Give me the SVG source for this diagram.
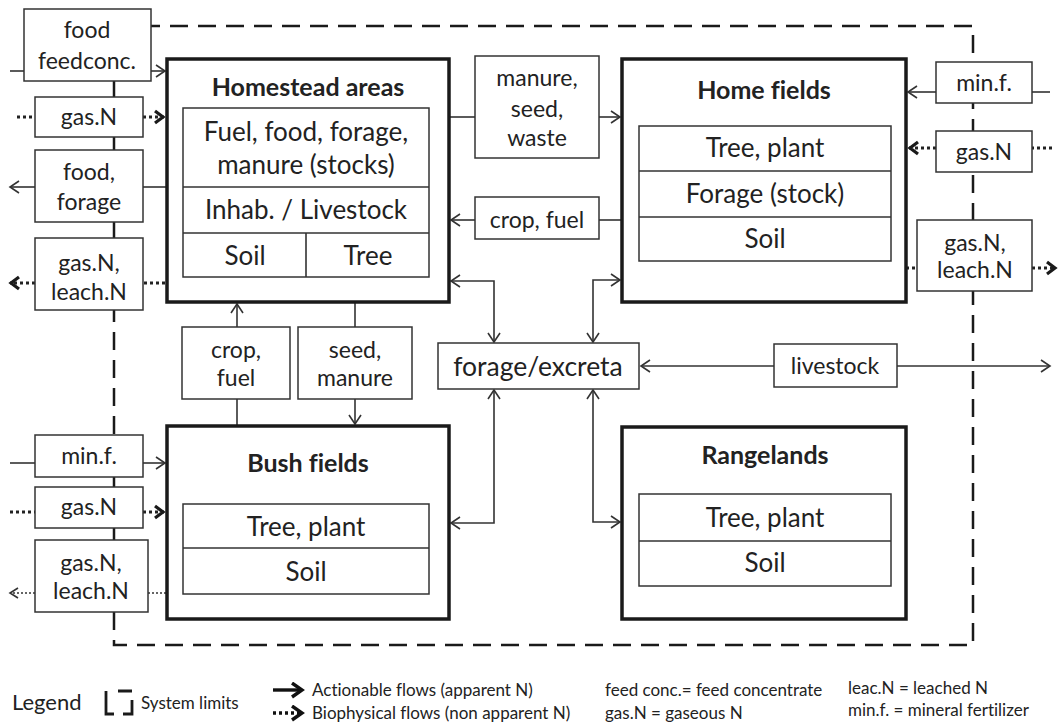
<svg xmlns="http://www.w3.org/2000/svg" width="1063" height="725" viewBox="0 0 1063 725">
<style>
text{font-family:Lato,"Open Sans","Liberation Sans",sans-serif;fill:#222;text-anchor:middle;font-variant-ligatures:none}
.t{font-size:23px}
.m{font-size:26px}
.h{font-size:25px;font-weight:bold}
.lg{font-size:17px;text-anchor:start}
.bx{fill:#fff;stroke:#333;stroke-width:1.5}
.big{fill:#fff;stroke:#1a1a1a;stroke-width:3.5}
.ln{fill:none;stroke:#333;stroke-width:1.6}
.dt{fill:none;stroke:#222;stroke-width:3;stroke-dasharray:3 3}
.dtt{fill:none;stroke:#333;stroke-width:1.5;stroke-dasharray:2 2}
.bd{fill:none;stroke:#1a1a1a;stroke-width:2.5;stroke-dasharray:18 10}
</style>
<defs>
<marker id="a" markerUnits="userSpaceOnUse" markerWidth="14" markerHeight="16" refX="10" refY="7" orient="auto-start-reverse"><path d="M1,1 L10,7 L1,13" fill="none" stroke="#333" stroke-width="1.6"/></marker>
<marker id="b" markerUnits="userSpaceOnUse" markerWidth="16" markerHeight="18" refX="11" refY="8" orient="auto"><path d="M2,2 L10,8 L2,14" fill="none" stroke="#1a1a1a" stroke-width="3.2"/></marker>
<marker id="c" markerUnits="userSpaceOnUse" markerWidth="14" markerHeight="14" refX="9" refY="6" orient="auto"><path d="M1,1 L9,6 L1,11" fill="none" stroke="#333" stroke-width="1.6"/></marker>
<marker id="L" markerUnits="userSpaceOnUse" markerWidth="18" markerHeight="18" refX="12" refY="8" orient="auto"><path d="M2,1 L12,8 L2,15" fill="none" stroke="#111" stroke-width="3.4"/></marker>
</defs>
<rect width="1063" height="725" fill="#fff"/>
<rect class="bd" x="114" y="26" width="859" height="619"/>
<g id="connectors">
<path class="ln" d="M10,71 H24"/>
<path class="ln" d="M151,71 H165" marker-end="url(#a)"/>
<path class="dt" d="M17,117 H35"/>
<path class="dt" d="M143,117 H164" marker-end="url(#b)"/>
<path class="ln" d="M166,187 H143"/>
<path class="ln" d="M35,187 H10" marker-end="url(#a)"/>
<path class="dt" d="M165,283 H143"/>
<path class="dt" d="M35,283 H10" marker-end="url(#b)"/>
<path class="ln" d="M449,117 H475"/>
<path class="ln" d="M599,117 H620" marker-end="url(#a)"/>
<path class="ln" d="M622,220 H599"/>
<path class="ln" d="M475,220 H451" marker-end="url(#a)"/>
<path class="ln" d="M451,281 H494 V342" marker-start="url(#a)" marker-end="url(#a)"/>
<path class="ln" d="M620,280 H593 V342" marker-start="url(#a)" marker-end="url(#a)"/>
<path class="ln" d="M494,390 V523 H451" marker-start="url(#a)" marker-end="url(#a)"/>
<path class="ln" d="M593,390 V522 H620" marker-start="url(#a)" marker-end="url(#a)"/>
<path class="ln" d="M774,366 H641" marker-end="url(#a)"/>
<path class="ln" d="M897,366 H1050" marker-end="url(#a)"/>
<path class="ln" d="M237,426 V399"/>
<path class="ln" d="M237,327 V304" marker-end="url(#a)"/>
<path class="ln" d="M355,302 V327"/>
<path class="ln" d="M355,399 V424" marker-end="url(#a)"/>
<path class="ln" d="M10,463 H35"/>
<path class="ln" d="M143,463 H165" marker-end="url(#a)"/>
<path class="dt" d="M10,512 H35"/>
<path class="dt" d="M143,512 H164" marker-end="url(#b)"/>
<path class="dtt" d="M166,593 H148"/>
<path class="dtt" d="M35,593 H10" marker-end="url(#c)"/>
<path class="ln" d="M1050,92 H1032"/>
<path class="ln" d="M936,92 H908" marker-end="url(#a)"/>
<path class="dt" d="M1052,148 H1032"/>
<path class="dt" d="M936,148 H909" marker-end="url(#b)"/>
<path class="dt" d="M906,268 H917"/>
<path class="dt" d="M1032,268 H1056" marker-end="url(#b)"/>
</g>
<g id="homestead">
<rect class="big" x="167" y="59" width="282" height="243"/>
<text class="h" x="308" y="96">Homestead areas</text>
<rect class="bx" x="183" y="108" width="246" height="169"/>
<path class="ln" d="M183,187 H429 M183,233 H429 M306,233 V277"/>
<text class="m" x="306" y="141">Fuel, food, forage,</text>
<text class="m" x="306" y="174">manure (stocks)</text>
<text class="m" x="306" y="219">Inhab. / Livestock</text>
<text class="m" x="245" y="265">Soil</text>
<text class="m" x="368" y="265">Tree</text>
</g>
<g id="homefields">
<rect class="big" x="622" y="59" width="284" height="243"/>
<text class="h" x="764" y="99">Home fields</text>
<rect class="bx" x="639" y="126" width="252" height="135"/>
<path class="ln" d="M639,171 H891 M639,217 H891"/>
<text class="m" x="765" y="157">Tree, plant</text>
<text class="m" x="765" y="203">Forage (stock)</text>
<text class="m" x="765" y="248">Soil</text>
</g>
<g id="bushfields">
<rect class="big" x="167" y="426" width="282" height="193"/>
<text class="h" x="308" y="472">Bush fields</text>
<rect class="bx" x="183" y="504" width="246" height="90"/>
<path class="ln" d="M183,548 H429"/>
<text class="m" x="306" y="536">Tree, plant</text>
<text class="m" x="306" y="581">Soil</text>
</g>
<g id="rangelands">
<rect class="big" x="622" y="427" width="284" height="192"/>
<text class="h" x="765" y="464">Rangelands</text>
<rect class="bx" x="639" y="494" width="252" height="92"/>
<path class="ln" d="M639,541 H891"/>
<text class="m" x="765" y="527">Tree, plant</text>
<text class="m" x="765" y="572">Soil</text>
</g>
<g id="forage-excreta">
<rect class="bx" x="438" y="343" width="201" height="46"/>
<text x="538" y="376" style="font-size:26.5px">forage/excreta</text>
</g>
<g id="livestock">
<rect class="bx" x="774" y="344" width="123" height="43"/>
<text class="t" x="835" y="374">livestock</text>
</g>
<g id="manure-seed-waste">
<rect class="bx" x="475" y="56" width="124" height="102"/>
<text class="t" x="537" y="86">manure,</text>
<text class="t" x="537" y="117">seed,</text>
<text class="t" x="537" y="146">waste</text>
</g>
<g id="crop-fuel-h">
<rect class="bx" x="475" y="197" width="124" height="42"/>
<text class="t" x="537" y="228">crop, fuel</text>
</g>
<g id="crop-fuel-v">
<rect class="bx" x="182" y="327" width="108" height="72"/>
<text class="t" x="236" y="358">crop,</text>
<text class="t" x="236" y="386">fuel</text>
</g>
<g id="seed-manure">
<rect class="bx" x="298" y="327" width="114" height="72"/>
<text class="t" x="355" y="358">seed,</text>
<text class="t" x="355" y="386">manure</text>
</g>
<g id="food-feedconc">
<rect class="bx" x="24" y="9" width="127" height="72"/>
<text class="t" x="87" y="38">food</text>
<text class="t" x="87" y="69">feedconc.</text>
</g>
<g id="gasN-1">
<rect class="bx" x="35" y="97" width="108" height="40"/>
<text class="t" x="89" y="125">gas.N</text>
</g>
<g id="food-forage">
<rect class="bx" x="35" y="150" width="108" height="72"/>
<text class="t" x="89" y="180">food,</text>
<text class="t" x="89" y="210">forage</text>
</g>
<g id="gasN-leachN-1">
<rect class="bx" x="35" y="238" width="108" height="72"/>
<text class="t" x="89" y="271">gas.N,</text>
<text class="t" x="89" y="300">leach.N</text>
</g>
<g id="minf-1">
<rect class="bx" x="35" y="435" width="108" height="42"/>
<text class="t" x="89" y="464">min.f.</text>
</g>
<g id="gasN-2">
<rect class="bx" x="35" y="487" width="108" height="41"/>
<text class="t" x="89" y="515">gas.N</text>
</g>
<g id="gasN-leachN-2">
<rect class="bx" x="35" y="540" width="113" height="72"/>
<text class="t" x="91" y="571">gas.N,</text>
<text class="t" x="91" y="599">leach.N</text>
</g>
<g id="minf-2">
<rect class="bx" x="936" y="62" width="96" height="41"/>
<text class="t" x="984" y="91">min.f.</text>
</g>
<g id="gasN-3">
<rect class="bx" x="936" y="131" width="96" height="41"/>
<text class="t" x="984" y="160">gas.N</text>
</g>
<g id="gasN-leachN-3">
<rect class="bx" x="917" y="220" width="115" height="71"/>
<text class="t" x="975" y="251">gas.N,</text>
<text class="t" x="975" y="278">leach.N</text>
</g>
<g id="legend">
<text x="12" y="710" style="font-size:22px;text-anchor:start">Legend</text>
<path d="M106,691 V714 H114 M118,691 H132 M132,700 V714 H123" fill="none" stroke="#1a1a1a" stroke-width="2.8"/>
<text class="lg" x="141" y="709">System limits</text>
<path d="M273,690 H302" fill="none" stroke="#111" stroke-width="3.4" marker-end="url(#L)"/>
<text class="lg" x="312" y="696">Actionable flows (apparent N)</text>
<path d="M273,713 H302" fill="none" stroke="#111" stroke-width="3.4" stroke-dasharray="3 3" marker-end="url(#L)"/>
<text class="lg" x="312" y="719">Biophysical flows (non apparent N)</text>
<text class="lg" x="605" y="696">feed conc.= feed concentrate</text>
<text class="lg" x="605" y="719">gas.N = gaseous N</text>
<text class="lg" x="848" y="694">leac.N = leached N</text>
<text class="lg" x="848" y="716">min.f. = mineral fertilizer</text>
</g>
</svg>
